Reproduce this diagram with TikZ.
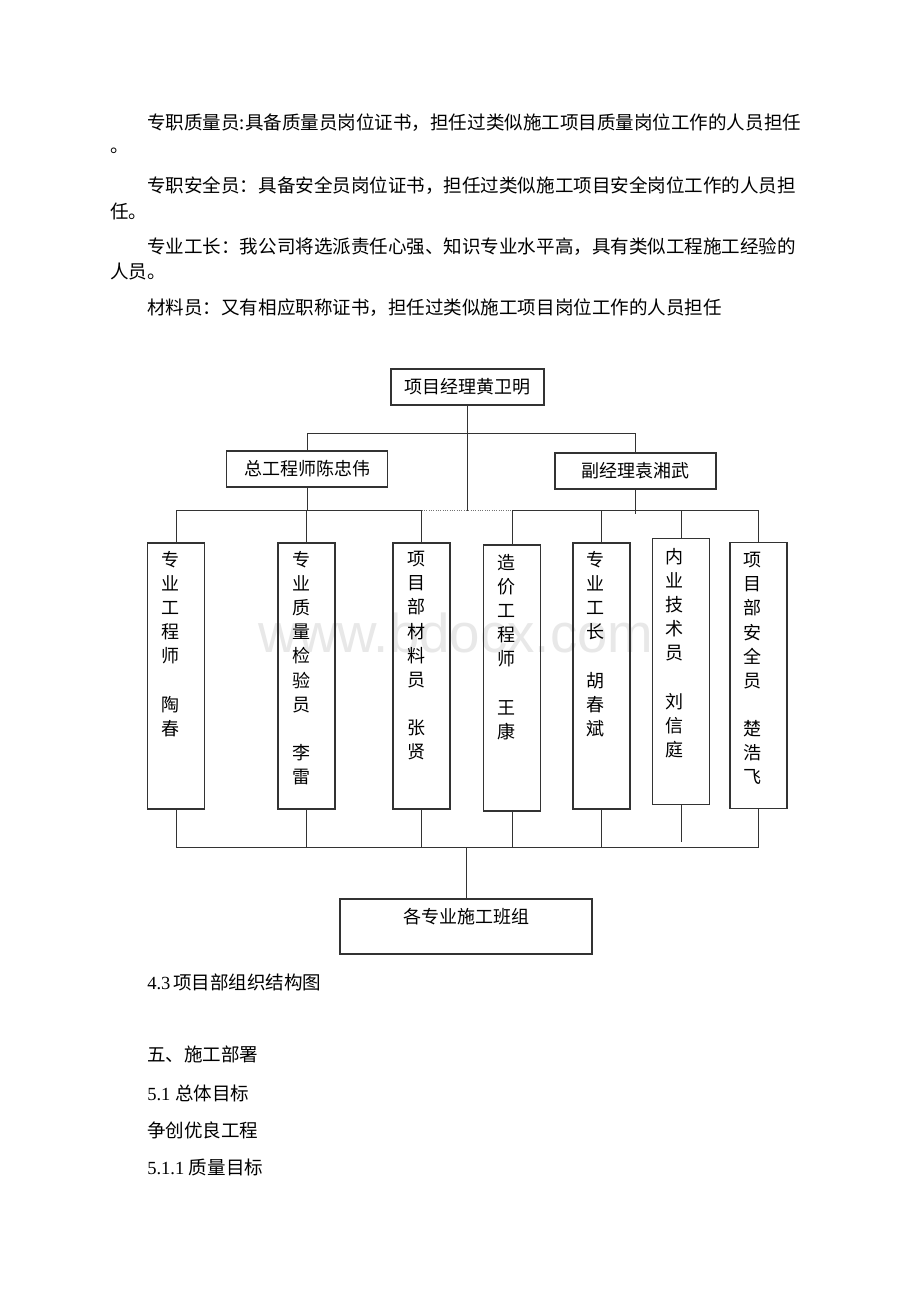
\documentclass[tikz,border=0pt]{standalone}
\usepackage{fontspec}
\setmainfont{Liberation Serif}
\setsansfont{Liberation Sans}
\newfontfamily\cjk{Noto Sans CJK SC}
\usepackage{tikz}
\usetikzlibrary{positioning,calc}
\tikzset{
  orgbox/.style={draw=black!80, line width=0.8pt, inner sep=0pt, font=\cjk\fontsize{13.5}{16}\selectfont},
  headbox/.style={orgbox, minimum width=120.75pt, minimum height=27pt},
  tallbox/.style={orgbox, minimum width=42.75pt, minimum height=199.5pt},
  vtext/.style={anchor=north, inner sep=0pt, align=center, font=\cjk\fontsize{13.5}{18.1}\selectfont},
  link/.style={draw=black!80, line width=0.75pt},
  bodytext/.style={anchor=west, inner sep=0pt, font=\cjk\fontsize{13.9}{18}\selectfont},
}

\begin{document}
\begin{tikzpicture}[x=0.75pt, y=-0.75pt]
\fill[white] (0,0) rectangle (920,1302);
\useasboundingbox (0,0) rectangle (920,1302);

%Watermark
\node[anchor=base, inner sep=0pt, text=black!9, font=\sffamily\fontsize{41}{41}\selectfont] (mark) at (456,652) {www.bdocx.com};

%Text above
\node[bodytext] (para1) at (147,123) {专职质量员:具备质量员岗位证书，担任过类似施工项目质量岗位工作的人员担任};
\node[bodytext] (para1b) at (110,151) {。};
\node[bodytext] (para2) at (147,186) {专职安全员：具备安全员岗位证书，担任过类似施工项目安全岗位工作的人员担};
\node[bodytext] (para2b) at (110,211) {任。};
\node[bodytext] (para3) at (147,247) {专业工长：我公司将选派责任心强、知识专业水平高，具有类似工程施工经验的};
\node[bodytext] (para3b) at (110,272) {人员。};
\node[bodytext] (para4) at (147,308) {材料员：又有相应职称证书，担任过类似施工项目岗位工作的人员担任};

%Nodes
\node[headbox, minimum width=114.75pt] (boss) at (467.5,387) {项目经理黄卫明};
\node[headbox] (chief) at (307,469) {总工程师陈忠伟};
\node[headbox] (deputy) at (635.5,471) {副经理袁湘武};

\node[tallbox] (p1) at (176,676) {};
\node[tallbox] (p2) at (306.5,676) {};
\node[tallbox] (p3) at (421.5,676) {};
\node[tallbox] (p4) at (512,678) {};
\node[tallbox] (p5) at (601.5,676) {};
\node[tallbox] (p6) at (681,671.5) {};
\node[tallbox] (p7) at (758.5,675.5) {};

\node[vtext] (t1) at (170,551) {专\\业\\工\\程\\师\\[18.1pt]陶\\春};
\node[vtext] (t2) at (301,551) {专\\业\\质\\量\\检\\验\\员\\[18.1pt]李\\雷};
\node[vtext] (t3) at (416,551) {项\\目\\部\\材\\料\\员\\[18.1pt]张\\贤};
\node[vtext] (t4) at (506,554) {造\\价\\工\\程\\师\\[18.1pt]王\\康};
\node[vtext] (t5) at (595,551) {专\\业\\工\\长\\[18.1pt]胡\\春\\斌};
\node[vtext] (t6) at (674,548) {内\\业\\技\\术\\员\\[18.1pt]刘\\信\\庭};
\node[vtext] (t7) at (752,552) {项\\目\\部\\安\\全\\员\\[18.1pt]楚\\浩\\飞};

\node[orgbox, minimum width=189pt, minimum height=41.25pt] (team) at (466,926.5) {};
\node[orgbox, draw=none] (teamtxt) at (466,917) {各专业施工班组};

\coordinate (topbus) at (0,433);
\coordinate (midbus) at (0,510.5);
\coordinate (lowbus) at (0,847);

%Lines
\draw[link] (boss.south) -- (boss.south |- midbus);
\draw[link] (chief.north) -- (chief.north |- topbus) -- (deputy.north |- topbus) -- (deputy.north);
\draw[link] (chief.south) -- (chief.south |- midbus);
\draw[link, shorten >=-2.5pt] (deputy.south) -- (deputy.south |- midbus);

\draw[link] (p1.north) -- (p1.north |- midbus) -- (p3.north |- midbus) -- (p3.north);
\draw[link, densely dotted, draw=black!55] (p3.north |- midbus) -- (p4.north |- midbus);
\draw[link] (p4.north) -- (p4.north |- midbus) -- (p7.north |- midbus) -- (p7.north);
\draw[link] (p2.north) -- (p2.north |- midbus);
\draw[link] (p5.north) -- (p5.north |- midbus);
\draw[link] (p6.north) -- (p6.north |- midbus);

\draw[link] (p1.south |- lowbus) -- (p7.south |- lowbus);
\draw[link] (p1.south) -- (p1.south |- lowbus);
\draw[link] (p2.south) -- (p2.south |- lowbus);
\draw[link] (p3.south) -- (p3.south |- lowbus);
\draw[link] (p4.south) -- (p4.south |- lowbus);
\draw[link] (p5.south) -- (p5.south |- lowbus);
\draw[link] (p6.south) -- ($(p6.south |- lowbus)+(0,-5)$);
\draw[link] (p7.south) -- (p7.south |- lowbus);
\draw[link] (team.north |- lowbus) -- (team.north);

%Text below
\node[bodytext] (caption) at (147,982) {{\rmfamily 4.3}\hspace{2pt}项目部组织结构图};
\node[bodytext] (sec5) at (147,1054) {五、施工部署};
\node[bodytext] (sec51) at (147,1093) {{\rmfamily 5.1 }总体目标};
\node[bodytext] (goal) at (147,1130) {争创优良工程};
\node[bodytext] (sec511) at (147,1167) {{\rmfamily 5.1.1 }质量目标};
\end{tikzpicture}
\end{document}
